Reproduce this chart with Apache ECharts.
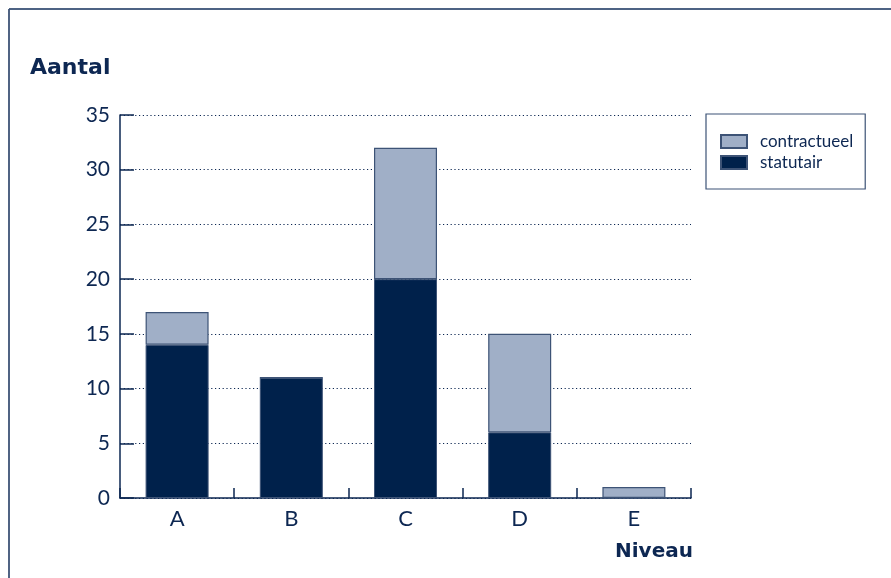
<!DOCTYPE html>
<html>
<head>
<meta charset="utf-8">
<script src="https://cdn.jsdelivr.net/npm/echarts@6/dist/echarts.min.js"></script>
<style>
html,body{margin:0;padding:0;background:#fff;}
#chart{width:891px;height:578px;}
</style>
</head>
<body>
<div id="chart"></div>
<script>
const categories = ['A', 'B', 'C', 'D', 'E'];
const statutair = [14, 11, 20, 6, 0];
const contractueel = [3, 0, 12, 9, 1];
const yTicks = [0, 5, 10, 15, 20, 25, 30, 35];

const navy = '#00214b';
const light = '#a0afc7';
const edge = '#3d5376';
const textColor = '#0d2752';
const font = 'Lato';
const boldFont = 'DejaVu Sans';

const chart = echarts.init(document.getElementById('chart'));
chart.setOption({
  animation: false,
  textStyle: { fontFamily: font, color: textColor },
  grid: { left: 120, right: 200, top: 115, bottom: 80, containLabel: false },
  legend: {
    orient: 'vertical',
    left: 706,
    top: 114,
    padding: [19, 12, 18, 14],
    itemGap: 4,
    itemWidth: 26,
    itemHeight: 13,
    borderColor: edge,
    borderWidth: 1.2,
    textStyle: { fontFamily: font, fontSize: 17, color: textColor, padding: [0, 0, 0, 8] },
    data: [
      { name: 'contractueel', icon: 'rect' },
      { name: 'statutair', icon: 'rect' }
    ]
  },
  xAxis: {
    type: 'category',
    data: categories,
    boundaryGap: true,
    axisLine: { show: true, lineStyle: { color: textColor, width: 1.5 } },
    axisTick: { show: true, inside: true, length: 10, lineStyle: { color: textColor, width: 1.5 } },
    axisLabel: { fontFamily: font, fontSize: 22, color: textColor, margin: 10 },
    splitLine: { show: false }
  },
  yAxis: {
    type: 'value',
    min: 0,
    max: 35,
    interval: 5,
    axisLine: { show: true, lineStyle: { color: textColor, width: 1.5 } },
    axisTick: { show: true, inside: true, length: 14, lineStyle: { color: textColor, width: 1.5 } },
    axisLabel: {
      fontFamily: font, fontSize: 21, color: textColor, margin: 10,
      formatter: v => yTicks.includes(v) ? String(v) : ''
    },
    splitLine: { show: true, lineStyle: { color: textColor, type: [1.2, 2.6], width: 1 } }
  },
  series: [
    {
      name: 'statutair',
      type: 'bar',
      stack: 'total',
      data: statutair,
      barWidth: 63,
      itemStyle: { color: navy, borderColor: edge, borderWidth: 1 }
    },
    {
      name: 'contractueel',
      type: 'bar',
      stack: 'total',
      data: contractueel,
      barWidth: 63,
      itemStyle: { color: light, borderColor: edge, borderWidth: 1.2 }
    }
  ],
  graphic: [
    { type: 'line', shape: { x1: 9, y1: 9, x2: 891, y2: 9 }, style: { stroke: '#4d6384', lineWidth: 1.8 } },
    { type: 'line', shape: { x1: 9, y1: 9, x2: 9, y2: 578 }, style: { stroke: '#3d5376', lineWidth: 1.8 } },
    { type: 'text', left: 30, top: 57, style: { text: 'Aantal', fontFamily: boldFont, fontWeight: 'bold', fontSize: 22, fill: textColor } },
    { type: 'text', left: 615, top: 542, style: { text: 'Niveau', fontFamily: boldFont, fontWeight: 'bold', fontSize: 20, fill: textColor } }
  ]
});
</script>
</body>
</html>
